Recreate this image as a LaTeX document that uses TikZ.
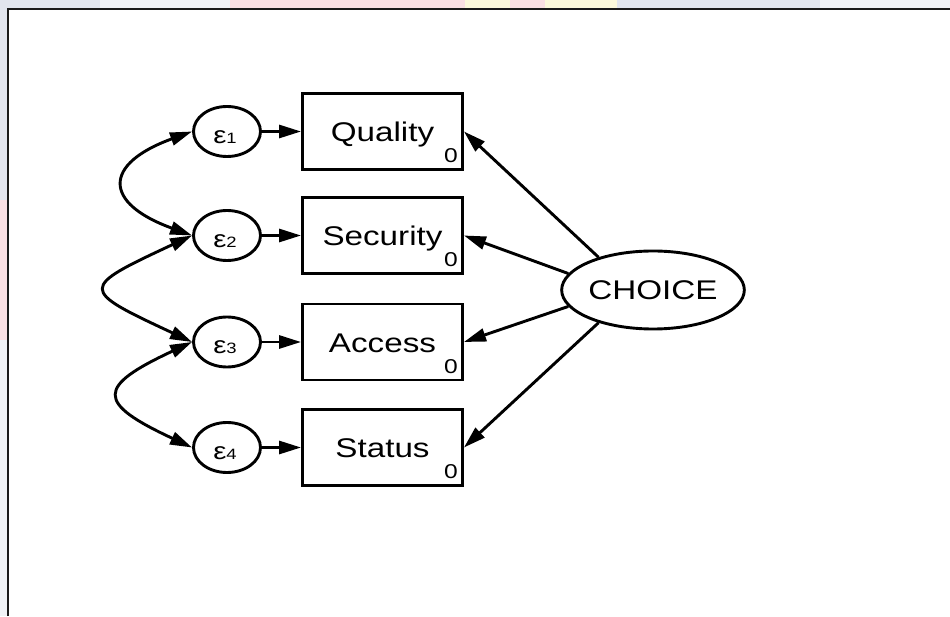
\documentclass[tikz,border=0pt]{standalone}
\usepackage{fontspec}
\setmainfont{Liberation Sans}[FakeStretch=1.23]
\usetikzlibrary{arrows.meta,shapes.geometric}

\definecolor{wmblue}{HTML}{E2E5EE}
\definecolor{wmpale}{HTML}{F0F2F6}
\definecolor{wmpink}{HTML}{FAE0E4}
\definecolor{wmyellow}{HTML}{FCF9DC}
\definecolor{framecol}{HTML}{1A1A1A}

\tikzset{
  tip/.tip={Triangle[length=22pt,width=13pt]},
  link/.style={-tip, line width=2.9pt},
  covar/.style={tip-tip, line width=2.9pt},
  errnode/.style={draw, ellipse, line width=2.9pt, minimum width=67pt,
    minimum height=50pt, inner sep=0pt},
  obsbox/.style={draw, rectangle, line width=2.9pt, minimum width=160pt,
    minimum height=76pt, inner sep=0pt},
  latent/.style={draw, ellipse, line width=2.9pt, minimum width=160pt,
    minimum height=78pt, inner sep=0pt,
    font=\fontsize{27}{30}\selectfont},
  boxlabel/.style={inner sep=0pt, anchor=base, font=\fontsize{27}{30}\selectfont},
  zerolabel/.style={inner sep=0pt, font=\fontsize{20}{22}\selectfont},
  errlabel/.style={inner sep=0pt, anchor=base},
}

\newcommand{\errtext}[1]{{\fontsize{24}{26}\selectfont ε}{\fontsize{15}{17}\selectfont #1}}

\begin{document}
\begin{tikzpicture}[x=1pt,y=1pt]
  \useasboundingbox (0,0) rectangle (950,616);
  \fill[white] (0,0) rectangle (950,616);

  % faint backdrop strips outside the frame
  \fill[wmblue]   (0,607) rectangle (100,616);
  \fill[wmpale]   (100,607) rectangle (230,616);
  \fill[wmpink]   (230,607) rectangle (465,616);
  \fill[wmyellow] (465,607) rectangle (510,616);
  \fill[wmpink]   (510,607) rectangle (545,616);
  \fill[wmyellow] (545,607) rectangle (617,616);
  \fill[wmblue]   (617,607) rectangle (820,616);
  \fill[wmpale]   (820,607) rectangle (950,616);
  \fill[wmblue]   (0,416) rectangle (8,607);
  \fill[wmpink]   (0,276) rectangle (8,416);
  \fill[wmpale]   (0,0) rectangle (8,276);

  % frame
  \draw[framecol, line width=1.6pt] (8,0) -- (8,607) -- (950,607);

  % observed variables
  \node[obsbox] (q)  at (382.5,484.5) {};
  \node[obsbox] (s)  at (382.5,380.5) {};
  \node[obsbox] (a)  at (382.5,274)   {};
  \node[obsbox] (st) at (382.5,168.5) {};

  \node[boxlabel] (qt)   at ([yshift=-10.5pt]q.center)  {Quality};
  \node[boxlabel] (stt)  at ([yshift=-10.5pt]s.center)  {Security};
  \node[boxlabel] (at)   at ([yshift=-10.5pt]a.center)  {Access};
  \node[boxlabel] (stat) at ([yshift=-10.5pt]st.center) {Status};

  \node[zerolabel] (q0)  at ([xshift=-13pt,yshift=15pt]q.south east)  {0};
  \node[zerolabel] (s0)  at ([xshift=-13pt,yshift=15pt]s.south east)  {0};
  \node[zerolabel] (a0)  at ([xshift=-13pt,yshift=15pt]a.south east)  {0};
  \node[zerolabel] (st0) at ([xshift=-13pt,yshift=15pt]st.south east) {0};

  % error terms
  \node[errnode] (e1) at (227,484.5) {};
  \node[errnode] (e2) at (227,380.5) {};
  \node[errnode] (e3) at (227,274)   {};
  \node[errnode] (e4) at (227,168.5) {};

  \node[errlabel] (e1t) at ([xshift=-2pt,yshift=-12pt]e1.center) {\errtext{1}};
  \node[errlabel] (e2t) at ([xshift=-2pt,yshift=-12pt]e2.center) {\errtext{2}};
  \node[errlabel] (e3t) at ([xshift=-2pt,yshift=-12pt]e3.center) {\errtext{3}};
  \node[errlabel] (e4t) at ([xshift=-2pt,yshift=-12pt]e4.center) {\errtext{4}};

  % latent factor
  \node[latent] (ch) at (653,326) {CHOICE};

  % error paths
  \draw[link] (e1) -- (q);
  \draw[link] (e2) -- (s);
  \draw[link] (e3) -- (a);
  \draw[link] (e4) -- (st);

  % loadings
  \draw[link] (ch.149) -- (q.east);
  \draw[link] (ch.169) -- (s.east);
  \draw[link] (ch.191) -- (a.east);
  \draw[link] (ch.211) -- (st.east);

  % error covariances
  \draw[covar] (e1.west) .. controls +(200:95) and +(160:95) .. (e2.west);
  \draw[covar] (e2.west) .. controls +(205:125) and +(155:125) .. (e3.west);
  \draw[covar] (e3.west) .. controls +(205:106) and +(155:106) .. (e4.west);
\end{tikzpicture}
\end{document}
